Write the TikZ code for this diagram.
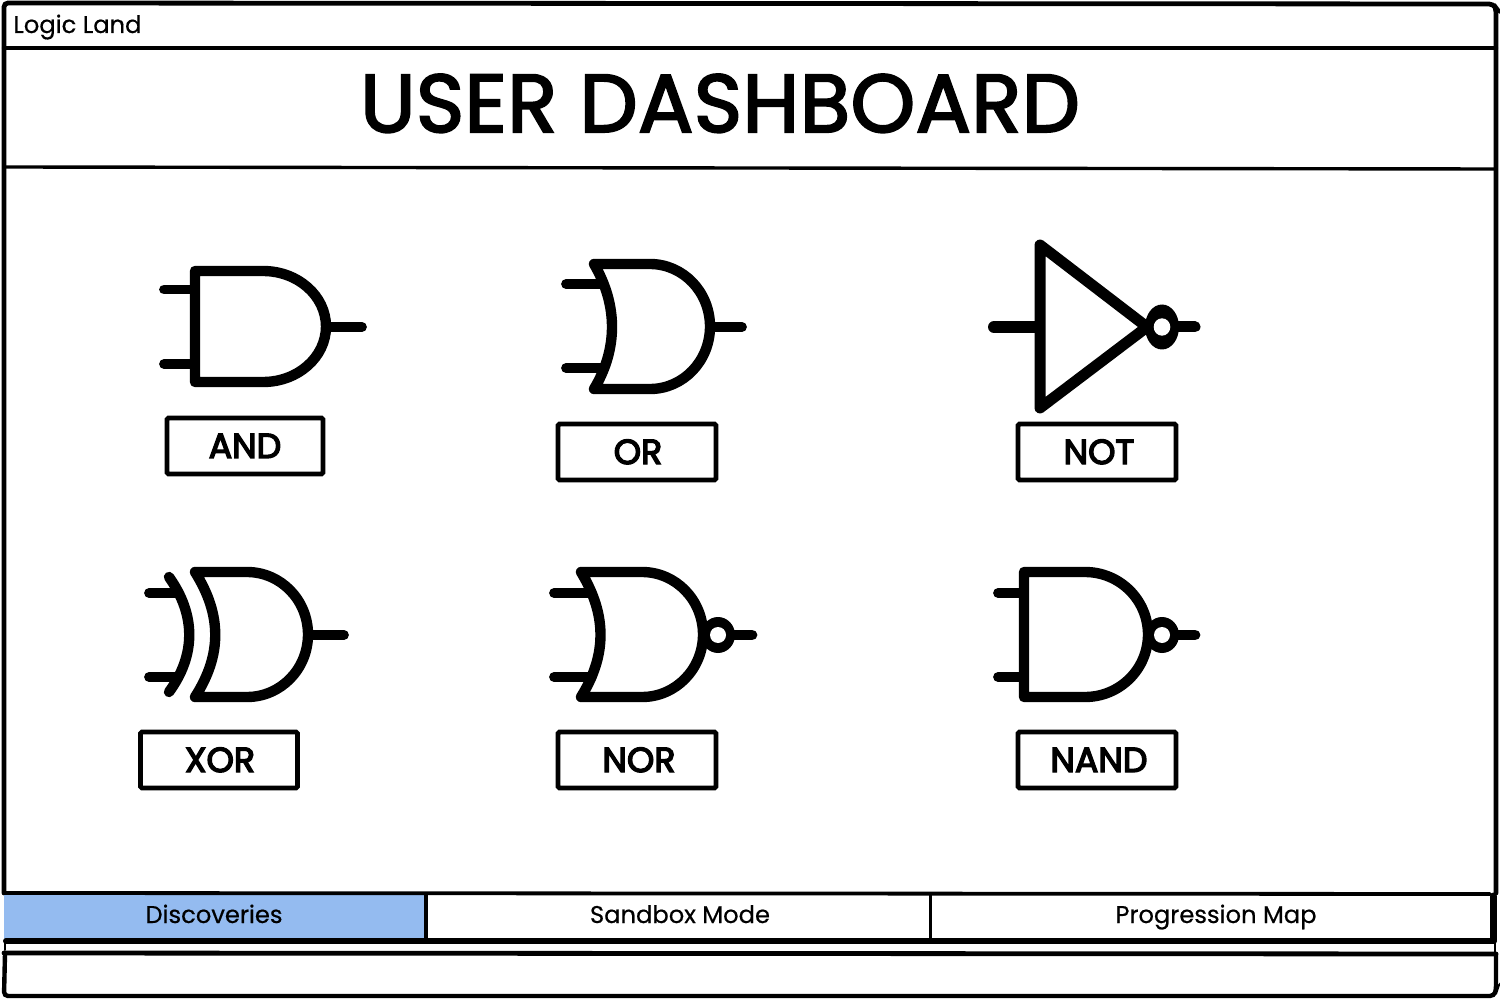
\documentclass[tikz,border=0pt]{standalone}
\usepackage{fontspec}
\setmainfont[FakeBold=0.5]{Poppins}
\newfontfamily\labfont[FakeBold=4]{Poppins}
\newfontfamily\titlefont[FakeBold=2.6,LetterSpace=0.65]{Poppins}
\definecolor{tabblue}{HTML}{94BBF0}
\tikzset{
  rule/.style={draw=black,line width=#1,line cap=round},
  gate/.style={draw=black,line width=5.2pt,line join=round,line cap=round},
  wire/.style={draw=black,line width=4.9pt,line cap=round},
  bubble/.style={fill=black,draw=none},
  hole/.style={fill=white,draw=none},
  lab/.style={draw=black,line width=2.4pt,fill=white,rounded corners=0.8pt,minimum height=28pt,inner sep=0pt},
  labtext/.style={inner sep=0pt,anchor=base,font=\labfont\fontsize{17.4}{20}\selectfont},
  tabtext/.style={inner sep=0pt,anchor=base,font=\fontsize{12.1}{15}\selectfont}
}
\begin{document}
\begin{tikzpicture}[x=0.5pt,y=-0.5pt]
\useasboundingbox (0,0) rectangle (1500,1000);
\fill[white] (0,0) rectangle (1500,1000);
% frame
\draw[rule=2.4pt,rounded corners=2pt] (4,893) -- (4,3) -- (1493,4) -- (1496,8) -- (1496,893);
\draw[rule=2.2pt] (4,48) -- (1496,48);
\draw[rule=1.7pt] (4,167) -- (1496,169);
% lower frame
\draw[rule=2.2pt,rounded corners=2pt] (5,954) -- (4,996) -- (1494,996) -- (1496,990) -- (1496,954);
\draw[rule=2.4pt] (4,953) -- (1496,954);
\draw[rule=1pt] (5,940) -- (5,950);
\draw[rule=1pt] (1495,940) -- (1495,952);
% tab bar
\fill[tabblue] (4,893) rectangle (426,939);
\draw[rule=1.9pt] (4,893) -- (1490,894);
\draw[rule=3pt] (6,941) -- (1494,941);
\draw[rule=3.5pt] (1493,896) -- (1493,940);
\draw[rule=1.7pt] (426,894) -- (426,938);
\draw[rule=1.5pt] (930,894) -- (930,938);
\node[tabtext] (tabA) at (214,923) {Discoveries};
\node[tabtext] (tabB) at (680,923) {Sandbox Mode};
\node[tabtext] (tabC) at (1216,923) {Progression Map};
\node[tabtext,anchor=base west] (brand) at (13,33) {Logic Land};
\node[inner sep=0pt,anchor=base,font=\titlefont\fontsize{41}{46}\selectfont] (title) at (720,132) {USER DASHBOARD};
% AND
\draw[wire] (164,289.5) -- (195,289.5);
\draw[wire] (164,364) -- (195,364);
\draw[wire] (326,327) -- (362,327);
\draw[gate] (195,271) -- (263,271) arc[start angle=-90,end angle=90,x radius=63,y radius=55.5] -- (195,382) -- cycle;
\node[lab,minimum width=78pt] (andB) at (245,446) {};
\node[labtext] (andL) at (245,458) {AND};
% OR
\draw[wire] (566,284) -- (603,284);
\draw[wire] (566,368) -- (603,368);
\draw[wire] (710,327) -- (742,327);
\draw[gate] (594,264) -- (650,264) arc[start angle=-90,end angle=90,x radius=60,y radius=62.5] -- (594,389) .. controls (618,349) and (618,305) .. cycle;
\node[lab,minimum width=79pt] (orB) at (637,452) {};
\node[labtext] (orL) at (638,464) {OR};
% NOT
\draw[wire,line width=6pt] (994,327) -- (1036,327);
\draw[wire,line width=5.5pt] (1178,327) -- (1195,327);
\draw[gate,line width=5.5pt] (1040,245) -- (1147,327) -- (1040,408) -- cycle;
\fill[bubble] (1162,327) ellipse[x radius=17,y radius=22.5];
\fill[hole] (1162,327) ellipse[x radius=8.3,y radius=8.7];
\node[lab,minimum width=79pt] (notB) at (1097,452) {};
\node[labtext] (notL) at (1099,464) {NOT};
% XOR
\draw[wire] (149,593) -- (178,593);
\draw[wire] (149,677) -- (178,677);
\draw[wire] (308,635) -- (344,635);
\draw[gate] (169,577) .. controls (196,615) and (196,655) .. (169,692);
\draw[gate] (195,572) -- (247,572) arc[start angle=-90,end angle=90,x radius=61,y radius=62.5] -- (195,697) .. controls (222,655) and (222,615) .. cycle;
\node[lab,minimum width=78.5pt] (xorB) at (219,760) {};
\node[labtext] (xorL) at (220,772) {XOR};
% NOR
\draw[wire] (554,593) -- (592,593);
\draw[wire] (554,677) -- (592,677);
\draw[wire,line width=5.4pt] (730,635) -- (752,635);
\fill[bubble] (718,635) ellipse[x radius=17,y radius=18];
\fill[hole] (718,635) circle[radius=8];
\draw[gate] (581,572) -- (642,572) arc[start angle=-90,end angle=90,x radius=61,y radius=62.5] -- (581,697) .. controls (607,655) and (607,615) .. cycle;
\node[lab,minimum width=79pt] (norB) at (637,760) {};
\node[labtext] (norL) at (639,772) {NOR};
% NAND
\draw[wire] (998,593) -- (1024,593);
\draw[wire] (998,677) -- (1024,677);
\draw[wire,line width=5.4pt] (1178,635) -- (1195,635);
\fill[bubble] (1162,635) ellipse[x radius=17,y radius=18];
\fill[hole] (1162,635) circle[radius=8];
\draw[gate] (1024,572) -- (1085,572) arc[start angle=-90,end angle=90,x radius=63,y radius=62.5] -- (1024,697) -- cycle;
\node[lab,minimum width=79pt] (nandB) at (1097,760) {};
\node[labtext] (nandL) at (1099,772) {NAND};
\end{tikzpicture}
\end{document}
